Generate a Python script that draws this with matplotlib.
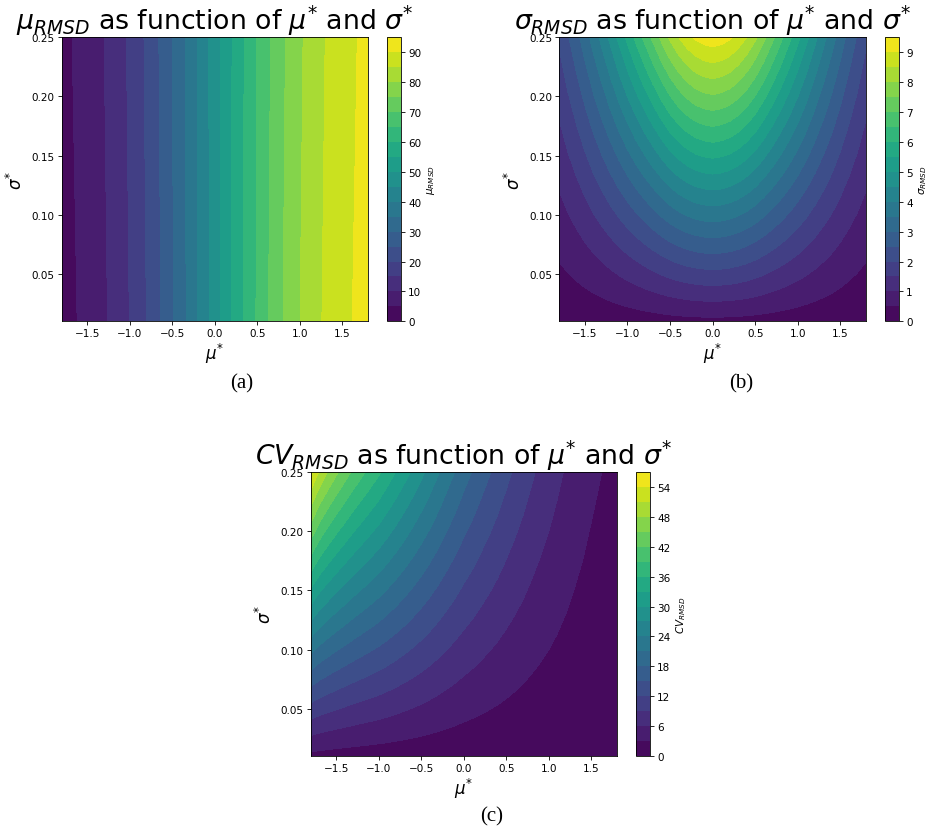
import numpy as np
import matplotlib
matplotlib.use("Agg")
import matplotlib.pyplot as plt

# grid of the parameters
mu_star = [-1.8, -1.7, -1.6, -1.5, -1.4, -1.3, -1.2, -1.1, -1.0, -0.9,
           -0.8, -0.7, -0.6, -0.5, -0.4, -0.3, -0.2, -0.1, 0.0, 0.1,
           0.2, 0.3, 0.4, 0.5, 0.6, 0.7, 0.8, 0.9, 1.0, 1.1,
           1.2, 1.3, 1.4, 1.5, 1.6, 1.7, 1.8]
sigma_star = [0.01, 0.25]

# mu_RMSD, one row for sigma*=0.01 and one for sigma*=0.25
mu_rmsd_low = [3.3, 4.1, 5.2, 6.4, 7.8, 9.3, 11.1, 13.0, 15.1, 17.6,
               20.1, 23.0, 26.0, 29.5, 32.8, 36.2, 39.9, 43.6, 47.5, 51.4,
               55.1, 58.8, 62.2, 65.5, 69.0, 72.0, 74.9, 77.4, 79.9, 82.0,
               83.9, 85.7, 87.2, 88.6, 89.8, 90.9, 91.7]
mu_rmsd_high = [3.7, 4.75, 5.85, 7.05, 8.5, 10.0, 11.8, 13.7, 15.8, 18.3,
                20.8, 23.7, 26.7, 29.9, 33.2, 36.6, 40.15, 43.85, 47.5, 51.15,
                54.85, 58.4, 61.8, 65.1, 68.3, 71.3, 74.2, 76.7, 79.2, 81.2,
                83.2, 85.0, 86.5, 87.95, 89.15, 90.25, 91.3]

# sigma_RMSD
sigma_rmsd_low = [0.083, 0.098, 0.113, 0.130, 0.148, 0.166, 0.185, 0.205, 0.225, 0.245,
                  0.265, 0.285, 0.305, 0.324, 0.340, 0.353, 0.363, 0.369, 0.372, 0.369,
                  0.363, 0.353, 0.340, 0.324, 0.305, 0.285, 0.265, 0.245, 0.225, 0.205,
                  0.185, 0.166, 0.148, 0.130, 0.113, 0.098, 0.083]
sigma_rmsd_high = [2.08, 2.45, 2.83, 3.25, 3.70, 4.15, 4.63, 5.13, 5.63, 6.13,
                   6.63, 7.13, 7.63, 8.10, 8.50, 8.83, 9.08, 9.23, 9.30, 9.23,
                   9.08, 8.83, 8.50, 8.10, 7.63, 7.13, 6.63, 6.13, 5.63, 5.13,
                   4.63, 4.15, 3.70, 3.25, 2.83, 2.45, 2.08]

# CV_RMSD
cv_rmsd_low = [2.18, 2.03, 1.92, 1.825, 1.74, 1.66, 1.59, 1.525, 1.46, 1.39,
               1.32, 1.25, 1.18, 1.11, 1.04, 0.97, 0.90, 0.835, 0.77, 0.715,
               0.66, 0.61, 0.56, 0.51, 0.465, 0.42, 0.375, 0.336, 0.30, 0.264,
               0.23, 0.198, 0.17, 0.145, 0.123, 0.105, 0.09]
cv_rmsd_high = [54.5, 50.75, 48.0, 45.6, 43.5, 41.5, 39.75, 38.1, 36.5, 34.75,
                33.0, 31.25, 29.5, 27.75, 26.0, 24.25, 22.5, 20.9, 19.25, 17.9,
                16.5, 15.25, 14.0, 12.75, 11.6, 10.5, 9.4, 8.4, 7.5, 6.6,
                5.75, 4.95, 4.25, 3.6, 3.1, 2.6, 2.25]

# contour level ranges shown on the colorbars
level_top = {"a": 95, "b": 9.5, "c": 57}

W, H = 928, 829


# pixel box (left, top, right, bottom) -> figure fraction rect
def rect(l, t, r, b):
    return [l / W, 1 - b / H, (r - l) / W, (b - t) / H]


def panel(fig, box, cbox, z, lev_max, title, cblabel, caption, cap_xy):
    ax = fig.add_axes(rect(*box))
    cax = fig.add_axes(rect(*cbox))
    levels = np.linspace(0, lev_max, 20)
    cs = ax.contourf(mu_star, sigma_star, z, levels=levels, cmap="viridis")
    ax.set_title(title, fontsize=19.3, pad=1)
    ax.set_xlabel(r"$\mu^{*}$", fontsize=12, labelpad=2)
    ax.set_ylabel(r"$\sigma^{*}$", fontsize=12, labelpad=4)
    ax.tick_params(labelsize=7.5, length=3, width=0.6, pad=2)
    for s in ax.spines.values():
        s.set_linewidth(0.6)
    cb = fig.colorbar(cs, cax=cax)
    cb.set_label(cblabel, fontsize=7.5, labelpad=3)
    cb.ax.tick_params(labelsize=7.5, length=3, width=0.6, pad=2)
    cb.outline.set_linewidth(0.6)
    fig.text(cap_xy[0] / W, 1 - cap_xy[1] / H, caption, family="Liberation Serif",
             fontsize=15, ha="center", va="center")
    return ax


fig = plt.figure(figsize=(W / 100, H / 100), dpi=100)

panel(fig, (61.7, 38.3, 367.7, 322.3), (386.7, 38.3, 401, 322.3),
      [mu_rmsd_low, mu_rmsd_high], level_top["a"],
      r"$\mu_{RMSD}$ as function of $\mu^{*}$ and $\sigma^{*}$",
      r"$\mu_{RMSD}$", "(a)", (241.7, 384))

panel(fig, (559.3, 38.3, 866, 322.3), (885, 38.3, 899, 322.3),
      [sigma_rmsd_low, sigma_rmsd_high], level_top["b"],
      r"$\sigma_{RMSD}$ as function of $\mu^{*}$ and $\sigma^{*}$",
      r"$\sigma_{RMSD}$", "(b)", (740.7, 384))

panel(fig, (310.7, 472.7, 617, 757.3), (636, 472.7, 650, 757.3),
      [cv_rmsd_low, cv_rmsd_high], level_top["c"],
      r"$CV_{RMSD}$ as function of $\mu^{*}$ and $\sigma^{*}$",
      r"$CV_{RMSD}$", "(c)", (491.7, 816.7))

fig.savefig("out.png", dpi=100)
